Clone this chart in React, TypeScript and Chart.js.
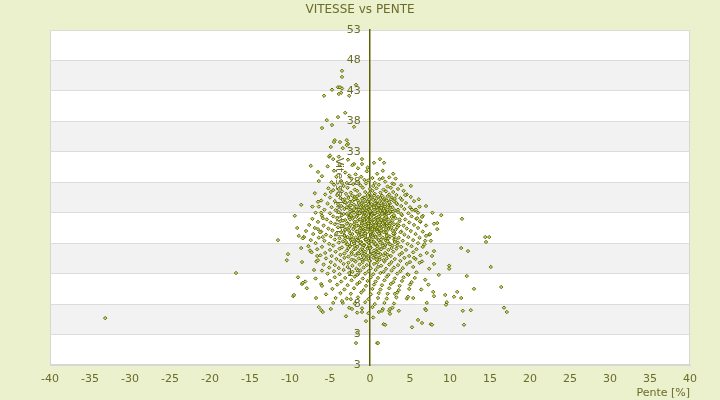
import { useEffect, useRef } from "react";
import { Chart, registerables } from "chart.js";

Chart.register(...registerables);

const TITLE = "VITESSE vs PENTE";
const X_TITLE = "Pente [%]";
const Y_TITLE = "Vitesse [km/h]";
const Y_TICK_LABELS = ["3", "3", "8", "13", "18", "23", "28", "33", "38", "43", "48", "53"];

const PAGE_BG = "#ebf0cd";
const BAND = "#f2f2f2";
const FRAME = "#d6d6d6";
const GRID = "#dcdcdc";
const AXIS = "#5b6000";
const TEXT = "#6b6b2a";
const POINT_LINE = "#5f6800";
const POINT_FILL = "#cfd882";
const FONT = "'DejaVu Sans', Verdana, sans-serif";

// [pente %, vitesse km/h]
const corePoints: [number, number][] = [
  [-3.1, 29.6], [-1.8, 29.3], [-0.4, 29.8], [0.9, 29.4], [1.6, 29.9], [-2.6, 29.1],
  [-4.2, 28.9], [-2.3, 28.6], [-1.1, 28.9], [0.3, 28.7], [1.2, 28.5], [2.4, 28.8], [-0.7, 28.4],
  [-3.6, 28.2], [-2.9, 27.9], [-1.5, 28.1], [-0.2, 28.3], [0.6, 27.9], [1.9, 28.1], [2.8, 27.8], [-4.8, 28.0],
  [-4.5, 27.6], [-3.3, 27.4], [-2.1, 27.7], [-1.2, 27.5], [-0.5, 27.8], [0.4, 27.4], [1.1, 27.6], [2.2, 27.3], [3.0, 27.7], [3.9, 27.5],
  [-5.2, 27.0], [-3.9, 26.9], [-2.8, 27.1], [-1.9, 26.8], [-0.9, 27.1], [0.0, 26.9], [0.8, 27.0], [1.7, 26.8], [2.6, 27.1], [3.5, 26.9], [-4.6, 26.7],
  [-4.9, 26.4], [-3.5, 26.5], [-2.4, 26.3], [-1.6, 26.6], [-0.6, 26.4], [0.3, 26.6], [1.3, 26.3], [2.0, 26.5], [2.9, 26.4], [4.2, 26.6], [-0.1, 26.2],
  [-5.6, 26.0], [-4.1, 25.9], [-3.0, 26.1], [-2.2, 25.8], [-1.3, 26.0], [-0.3, 25.9], [0.6, 26.1], [1.5, 25.8], [2.4, 26.0], [3.3, 25.9], [4.6, 26.0], [-1.9, 25.6], [0.2, 25.7],
  [-5.0, 25.5], [-3.7, 25.4], [-2.7, 25.6], [-1.8, 25.3], [-0.8, 25.5], [0.1, 25.4], [1.0, 25.6], [1.8, 25.3], [2.7, 25.5], [3.8, 25.4], [5.1, 25.6], [-3.2, 25.2], [-0.2, 25.1],
  [-6.1, 25.0], [-4.4, 24.9], [-3.4, 25.1], [-2.5, 24.8], [-1.5, 25.0], [-0.6, 24.9], [0.4, 25.1], [1.2, 24.8], [2.1, 25.0], [3.0, 24.9], [4.0, 25.1], [5.5, 24.9], [-1.0, 24.7], [0.8, 24.6],
  [-5.3, 24.5], [-4.0, 24.4], [-3.0, 24.6], [-2.0, 24.3], [-1.1, 24.5], [-0.2, 24.4], [0.7, 24.6], [1.6, 24.3], [2.5, 24.5], [3.4, 24.4], [4.5, 24.6], [-2.6, 24.1], [0.2, 24.2], [1.1, 24.0],
  [-6.4, 24.0], [-4.8, 23.9], [-3.6, 24.1], [-2.7, 23.8], [-1.7, 24.0], [-0.9, 23.9], [0.0, 24.1], [0.9, 23.8], [1.9, 24.0], [2.8, 23.9], [3.9, 24.1], [5.0, 23.9], [6.2, 24.0], [-0.4, 23.7], [1.4, 23.6],
  [-5.7, 23.5], [-4.3, 23.4], [-3.2, 23.6], [-2.3, 23.3], [-1.4, 23.5], [-0.5, 23.4], [0.5, 23.6], [1.3, 23.3], [2.2, 23.5], [3.1, 23.4], [4.3, 23.6], [5.6, 23.4], [-0.9, 23.2], [0.1, 23.1], [2.6, 23.2],
  [-6.8, 23.0], [-5.0, 22.9], [-3.9, 23.1], [-2.9, 22.8], [-2.0, 23.0], [-1.2, 22.9], [-0.3, 23.1], [0.6, 22.8], [1.5, 23.0], [2.4, 22.9], [3.5, 23.1], [4.8, 22.9], [6.0, 23.0], [-0.7, 22.7], [0.3, 22.6], [1.9, 22.7],
  [-6.0, 22.5], [-4.6, 22.4], [-3.5, 22.6], [-2.6, 22.3], [-1.6, 22.5], [-0.8, 22.4], [0.2, 22.6], [1.0, 22.3], [1.9, 22.5], [2.9, 22.4], [4.0, 22.6], [5.2, 22.4], [6.6, 22.5], [-0.1, 22.2], [0.7, 22.1], [-2.1, 22.2],
  [-7.2, 22.0], [-5.4, 21.9], [-4.1, 22.1], [-3.1, 21.8], [-2.2, 22.0], [-1.3, 21.9], [-0.4, 22.1], [0.4, 21.8], [1.3, 22.0], [2.2, 21.9], [3.2, 22.1], [4.4, 21.9], [5.8, 22.0], [-0.9, 21.7], [0.9, 21.6], [1.7, 21.7],
  [-6.5, 21.5], [-4.9, 21.4], [-3.7, 21.6], [-2.8, 21.3], [-1.9, 21.5], [-1.0, 21.4], [-0.1, 21.6], [0.8, 21.3], [1.6, 21.5], [2.6, 21.4], [3.7, 21.6], [4.9, 21.4], [6.3, 21.5], [-0.5, 21.2], [0.3, 21.1], [2.0, 21.2],
  [-7.6, 21.0], [-5.8, 20.9], [-4.4, 21.1], [-3.3, 20.8], [-2.4, 21.0], [-1.5, 20.9], [-0.6, 21.1], [0.2, 20.8], [1.1, 21.0], [2.0, 20.9], [3.0, 21.1], [4.2, 20.9], [5.5, 21.0], [7.0, 20.9], [-1.1, 20.7], [0.6, 20.6], [1.4, 20.7],
  [-6.9, 20.5], [-5.2, 20.4], [-4.0, 20.6], [-3.0, 20.3], [-2.0, 20.5], [-1.2, 20.4], [-0.3, 20.6], [0.5, 20.3], [1.4, 20.5], [2.3, 20.4], [3.4, 20.6], [4.6, 20.4], [6.0, 20.5], [-0.8, 20.2], [0.0, 20.1], [0.9, 20.2],
  [-8.0, 20.0], [-6.1, 19.9], [-4.7, 20.1], [-3.6, 19.8], [-2.6, 20.0], [-1.7, 19.9], [-0.8, 20.1], [0.0, 19.8], [0.9, 20.0], [1.8, 19.9], [2.8, 20.1], [3.9, 19.9], [5.1, 20.0], [6.6, 19.9], [-1.3, 19.7], [0.4, 19.6], [1.2, 19.7],
  [-7.1, 19.5], [-5.5, 19.4], [-4.2, 19.6], [-3.2, 19.3], [-2.2, 19.5], [-1.4, 19.4], [-0.5, 19.6], [0.3, 19.3], [1.2, 19.5], [2.1, 19.4], [3.1, 19.6], [4.3, 19.4], [5.7, 19.5], [7.4, 19.4], [-0.9, 19.2], [0.7, 19.1],
  [-8.3, 19.0], [-6.4, 18.9], [-4.9, 19.1], [-3.8, 18.8], [-2.8, 19.0], [-1.8, 18.9], [-1.0, 19.1], [-0.1, 18.8], [0.7, 19.0], [1.6, 18.9], [2.5, 19.1], [3.6, 18.9], [4.8, 19.0], [6.2, 18.9], [-0.4, 18.7], [1.0, 18.6], [2.0, 18.7],
  [-7.4, 18.5], [-5.7, 18.4], [-4.4, 18.6], [-3.4, 18.3], [-2.4, 18.5], [-1.5, 18.4], [-0.6, 18.6], [0.2, 18.3], [1.1, 18.5], [2.0, 18.4], [3.0, 18.6], [4.1, 18.4], [5.4, 18.5], [6.9, 18.4], [-1.1, 18.2], [0.5, 18.1],
  [-6.8, 18.0], [-5.1, 17.9], [-3.9, 18.1], [-2.9, 17.8], [-2.0, 18.0], [-1.1, 17.9], [-0.2, 18.1], [0.6, 17.8], [1.5, 18.0], [2.4, 17.9], [3.5, 18.1], [4.7, 17.9], [6.0, 18.0], [-0.7, 17.7], [0.9, 17.6], [1.9, 17.7],
  [-7.7, 17.5], [-6.0, 17.4], [-4.6, 17.6], [-3.5, 17.3], [-2.5, 17.5], [-1.6, 17.4], [-0.8, 17.6], [0.1, 17.3], [0.9, 17.5], [1.8, 17.4], [2.8, 17.6], [3.9, 17.4], [5.2, 17.5], [6.6, 17.4], [-0.3, 17.2], [1.3, 17.1],
  [-6.6, 17.0], [-5.0, 16.9], [-3.8, 17.1], [-2.9, 16.8], [-2.0, 17.0], [-1.2, 16.9], [-0.3, 17.1], [0.5, 16.8], [1.4, 17.0], [2.3, 16.9], [3.3, 17.1], [4.5, 16.9], [5.8, 17.0], [-0.8, 16.7], [0.8, 16.6],
  [-7.3, 16.5], [-5.6, 16.4], [-4.3, 16.6], [-3.2, 16.3], [-2.3, 16.5], [-1.5, 16.4], [-0.6, 16.6], [0.2, 16.3], [1.0, 16.5], [1.9, 16.4], [2.9, 16.6], [4.0, 16.4], [5.4, 16.5], [7.1, 16.4], [-1.0, 16.2], [0.6, 16.1],
  [-6.2, 16.0], [-4.8, 15.9], [-3.7, 16.1], [-2.7, 15.8], [-1.8, 16.0], [-0.9, 15.9], [0.0, 16.1], [0.8, 15.8], [1.7, 16.0], [2.6, 15.9], [3.7, 16.1], [4.9, 15.9], [6.3, 16.0], [-0.4, 15.7], [1.2, 15.6],
  [-5.5, 15.5], [-4.2, 15.4], [-3.2, 15.6], [-2.3, 15.3], [-1.4, 15.5], [-0.5, 15.4], [0.4, 15.6], [1.2, 15.3], [2.1, 15.5], [3.1, 15.4], [4.3, 15.6], [5.7, 15.4], [-0.9, 15.2],
  [-6.7, 15.0], [-4.9, 14.9], [-3.7, 15.1], [-2.7, 14.8], [-1.8, 15.0], [-0.9, 14.9], [0.0, 15.1], [0.9, 14.8], [1.8, 15.0], [2.7, 14.9], [3.8, 15.1], [5.0, 14.9], [6.5, 15.0],
  [-5.8, 14.5], [-4.4, 14.4], [-3.3, 14.6], [-2.2, 14.3], [-1.3, 14.5], [-0.4, 14.4], [0.5, 14.6], [1.4, 14.3], [2.4, 14.5], [3.5, 14.4], [4.6, 14.6],
  [-5.1, 14.0], [-3.9, 13.9], [-2.8, 14.1], [-1.7, 13.8], [-0.8, 14.0], [0.1, 13.9], [1.0, 14.1], [2.0, 13.8], [3.0, 14.0], [4.1, 13.9], [5.4, 14.1],
  [-6.0, 13.5], [-4.5, 13.4], [-3.3, 13.6], [-2.2, 13.3], [-1.2, 13.5], [-0.2, 13.4], [0.7, 13.6], [1.7, 13.3], [2.7, 13.5], [3.8, 13.4],
  [-5.3, 13.0], [-3.8, 12.9], [-2.6, 13.1], [-1.6, 12.8], [-0.6, 13.0], [0.4, 12.9], [1.3, 13.1], [2.3, 12.8], [3.4, 13.0], [4.7, 12.9],
  [-4.4, 12.4], [-3.1, 12.3], [-1.9, 12.5], [-0.9, 12.2], [0.1, 12.4], [1.0, 12.3], [2.1, 12.5], [3.1, 12.2], [4.2, 12.4], [5.6, 12.3],
  [-5.0, 11.8], [-3.6, 11.7], [-2.3, 11.9], [-1.3, 11.6], [-0.3, 11.8], [0.7, 11.7], [1.8, 11.9], [2.9, 11.6], [4.0, 11.8],
  [-4.1, 11.2], [-2.8, 11.1], [-1.6, 11.3], [-0.5, 11.0], [0.5, 11.2], [1.5, 11.1], [2.6, 11.3], [3.7, 11.0], [5.0, 11.2],
  [-4.7, 10.5], [-3.2, 10.4], [-2.0, 10.6], [-0.8, 10.3], [0.3, 10.5], [1.3, 10.4], [2.4, 10.6], [3.6, 10.3], [4.9, 10.5],
  [-3.7, 9.8], [-2.4, 9.7], [-1.1, 9.9], [0.1, 9.6], [1.1, 9.8], [2.2, 9.7], [3.4, 9.9],
  [-4.3, 9.0], [-2.9, 8.9], [-1.5, 9.1], [-0.2, 8.8], [1.0, 9.0], [2.1, 8.9], [3.3, 9.1], [4.6, 8.9],
  [-3.4, 8.2], [-1.9, 8.1], [-0.6, 8.3], [0.6, 8.0], [1.8, 8.2], [3.0, 8.1],
  [-2.6, 7.4], [-1.0, 7.3], [0.3, 7.5], [1.6, 7.2], [2.8, 7.4],
  [-1.6, 6.6], [-0.2, 6.5], [1.1, 6.7], [2.5, 6.4],
];

const coreDensePoints: [number, number][] = [
  [-2.0, 25.2], [-1.0, 25.3], [-0.1, 25.2], [0.8, 25.3], [1.7, 25.1], [2.6, 25.2],
  [-2.4, 24.2], [-1.3, 24.3], [-0.5, 24.1], [0.5, 24.3], [1.4, 24.2], [2.3, 24.1],
  [-2.5, 23.2], [-1.6, 23.1], [-0.8, 23.3], [0.1, 23.2], [1.0, 23.1], [1.9, 23.3], [2.9, 23.2],
  [-2.6, 22.2], [-1.7, 22.3], [-0.9, 22.1], [0.0, 22.3], [0.9, 22.2], [1.8, 22.1], [2.7, 22.3],
  [-2.9, 21.2], [-2.0, 21.1], [-1.0, 21.3], [-0.2, 21.2], [0.7, 21.1], [1.6, 21.3], [2.5, 21.2], [3.4, 21.1],
  [-3.1, 20.2], [-2.1, 20.3], [-1.3, 20.1], [-0.4, 20.3], [0.5, 20.2], [1.4, 20.1], [2.3, 20.3], [3.2, 20.2],
  [-3.2, 19.2], [-2.3, 19.1], [-1.4, 19.3], [-0.6, 19.2], [0.3, 19.1], [1.2, 19.3], [2.1, 19.2], [3.0, 19.1],
  [-3.0, 18.2], [-2.1, 18.3], [-1.2, 18.1], [-0.4, 18.3], [0.5, 18.2], [1.3, 18.1], [2.2, 18.3], [3.1, 18.2],
  [-2.7, 17.2], [-1.8, 17.1], [-0.9, 17.3], [0.0, 17.2], [0.9, 17.1], [1.8, 17.3], [2.7, 17.2],
  [-2.3, 16.2], [-1.4, 16.3], [-0.5, 16.1], [0.4, 16.3], [1.3, 16.2], [2.2, 16.1],
  [-2.0, 15.2], [-1.0, 15.3], [-0.1, 15.1], [0.8, 15.3], [1.7, 15.2],
];

const coreRingPoints: [number, number][] = [
  [-2.7, 25.4], [-1.6, 25.7], [-0.6, 25.5], [0.5, 25.8], [1.3, 25.4], [2.2, 25.7], [3.1, 25.3],
  [-3.1, 24.7], [-2.2, 24.9], [-1.4, 24.6], [-0.3, 24.8], [0.6, 24.5], [1.6, 24.9], [2.4, 24.7], [3.3, 24.6],
  [-2.9, 23.9], [-2.0, 23.6], [-1.1, 23.8], [-0.1, 23.5], [0.8, 23.9], [1.7, 23.6], [2.5, 23.8], [3.5, 23.5],
  [-3.3, 22.8], [-2.4, 22.6], [-1.5, 22.9], [-0.5, 22.6], [0.4, 22.9], [1.3, 22.6], [2.1, 22.8], [3.0, 22.6], [3.9, 22.8],
  [-3.4, 21.7], [-2.5, 21.9], [-1.6, 21.6], [-0.7, 21.8], [0.1, 21.5], [1.0, 21.8], [1.9, 21.5], [2.8, 21.7], [3.7, 21.9],
  [-3.5, 20.8], [-2.6, 20.6], [-1.7, 20.9], [-0.9, 20.6], [0.1, 20.9], [1.0, 20.6], [1.8, 20.8], [2.7, 20.6], [3.6, 20.9],
  [-3.3, 19.8], [-2.5, 19.6], [-1.6, 19.9], [-0.6, 19.6], [0.2, 19.9], [1.1, 19.6], [2.0, 19.8], [2.9, 19.6], [3.8, 19.8],
  [-3.1, 18.8], [-2.2, 18.6], [-1.3, 18.9], [-0.5, 18.6], [0.4, 18.9], [1.4, 18.6], [2.3, 18.8], [3.2, 18.6],
  [-2.8, 17.8], [-1.9, 17.6], [-1.0, 17.9], [-0.1, 17.6], [0.7, 17.9], [1.6, 17.6], [2.5, 17.8], [3.4, 17.6],
];

const coreInnerPoints: [number, number][] = [
  [-0.8, 24.3], [0.2, 24.4], [1.1, 24.2], [1.9, 24.4],
  [-1.2, 23.9], [-0.4, 23.8], [0.5, 23.9], [1.4, 23.8], [2.2, 23.9],
  [-0.9, 23.4], [0.0, 23.3], [0.9, 23.4], [1.8, 23.3],
  [-1.3, 22.9], [-0.4, 22.8], [0.6, 22.9], [1.5, 22.8], [2.3, 22.9],
  [-0.8, 22.4], [0.1, 22.3], [1.1, 22.4], [2.0, 22.3],
  [-1.2, 21.9], [-0.3, 21.8], [0.5, 21.9], [1.4, 21.8], [2.3, 21.9],
  [-0.7, 21.4], [0.2, 21.3], [1.2, 21.4], [2.1, 21.3],
  [-1.1, 20.9], [-0.2, 20.8], [0.7, 20.9], [1.6, 20.8], [2.4, 20.9],
  [-0.6, 20.4], [0.3, 20.3], [1.2, 20.4], [2.0, 20.3],
  [-0.9, 19.9], [0.0, 19.8], [0.9, 19.9], [1.7, 19.8],
];

const upperTail: [number, number][] = [
  [-3.5, 46.3], [-3.5, 45.3], [-4.0, 43.6], [-3.75, 43.6], [-3.5, 43.4], [-4.75, 43.2], [-1.75, 44.0],
  [-3.6, 42.7], [-3.9, 42.5], [-5.75, 42.2], [-2.6, 42.2], [-3.1, 39.4], [-4.0, 38.7], [-5.4, 38.2],
  [-4.75, 37.4], [-6.0, 36.9], [-2.0, 37.1], [-4.4, 34.9], [-4.5, 34.6], [-3.75, 34.6], [-2.9, 34.9],
  [-2.75, 34.3], [-4.9, 33.8], [-3.4, 33.6], [-2.9, 34.1], [-5.1, 32.2], [-3.9, 32.2], [-4.6, 31.8],
  [-2.75, 31.7], [-1.0, 31.8], [-2.0, 31.0], [-1.0, 31.0], [-1.5, 30.3], [-7.4, 30.7], [-6.5, 29.7],
  [-6.0, 29.0], [-6.4, 28.2], [1.25, 31.8], [1.75, 31.2], [1.6, 28.7], [-5.0, 32.4], [-4.5, 29.9],
  [-3.5, 27.9], [-5.3, 30.6], [-2.2, 30.8], [-0.3, 30.4], [0.5, 31.2], [-3.8, 30.9],
];

const leftTail: [number, number][] = [
  [-33.1, 5.7], [-16.75, 13.1], [-11.5, 18.5], [-8.6, 24.3], [-9.4, 22.5], [-9.1, 20.5], [-8.9, 19.2],
  [-8.25, 19.0], [-8.4, 18.8], [-8.6, 17.2], [-10.25, 16.2], [-10.4, 15.2], [-8.5, 14.9], [-6.6, 15.9],
  [-6.5, 15.2], [-9.0, 12.4], [-8.5, 11.3], [-8.4, 11.5], [-8.1, 11.7], [-9.6, 9.3], [-9.5, 9.5],
  [-6.75, 9.0], [-7.9, 10.6], [-6.1, 11.3], [-6.0, 11.0], [-6.4, 7.5], [-6.1, 7.0], [-5.9, 6.7],
  [-4.9, 7.2], [-3.5, 8.5], [-2.25, 7.2], [-2.4, 8.8], [-1.75, 1.6], [-1.6, 3.3], [-1.0, 6.7],
  [-6.5, 24.8], [-6.1, 23.0], [-5.9, 22.1], [-6.5, 20.3], [-6.25, 19.8], [-5.9, 19.0], [-7.0, 13.6],
  [-6.8, 12.2], [-7.5, 16.8], [-5.5, 9.6], [-4.6, 8.2], [-3.0, 6.0], [-7.2, 24.0], [-6.9, 26.2],
];

const lowTail: [number, number][] = [
  [0.9, 1.6], [1.0, 1.6], [-0.5, 5.2], [0.4, 5.8], [1.7, 4.7], [1.9, 4.6],
  [3.6, 6.9], [2.4, 6.9], [2.5, 7.2], [1.5, 6.9],
];

const rightTail: [number, number][] = [
  [4.4, 25.9], [7.0, 24.1], [11.5, 22.0], [8.4, 21.3], [8.0, 21.2], [8.4, 20.3], [7.5, 19.5],
  [7.0, 19.2], [14.4, 19.0], [14.9, 19.0], [14.5, 18.2], [11.4, 17.2], [12.25, 16.7], [8.0, 16.7],
  [7.75, 15.9], [6.25, 21.6], [5.9, 22.1], [6.5, 22.3], [5.75, 23.5], [5.25, 23.5], [15.1, 14.1],
  [9.9, 14.3], [9.9, 13.8], [8.0, 14.6], [7.4, 13.8], [12.1, 12.6], [16.4, 10.8], [13.0, 10.5],
  [10.9, 10.0], [10.5, 9.2], [11.4, 9.0], [9.4, 9.5], [9.6, 8.3], [9.5, 7.9], [8.0, 9.3],
  [7.1, 8.2], [16.75, 7.4], [17.1, 6.7], [11.6, 6.9], [12.6, 7.0], [6.9, 7.2], [7.0, 7.0],
  [6.0, 5.4], [6.5, 4.9], [7.6, 4.7], [7.75, 4.6], [11.75, 4.6], [5.25, 4.2], [5.4, 9.0],
  [4.75, 9.2], [3.1, 9.7], [5.5, 15.6], [6.2, 14.8], [5.8, 13.2], [6.9, 12.0], [5.2, 11.6],
  [6.4, 10.4], [7.3, 11.2], [8.6, 12.8], [7.9, 10.0], [4.8, 12.8], [6.8, 17.8], [7.6, 18.4],
  [5.1, 27.4], [3.2, 28.6], [2.9, 29.4], [8.9, 22.6], [7.8, 23.0], [6.1, 25.2],
];

const allPoints = [
  ...corePoints, ...coreDensePoints, ...coreRingPoints, ...coreInnerPoints,
  ...upperTail, ...leftTail, ...lowTail, ...rightTail,
];

// white plot area, alternating grey bands, frame and the chart title
const framePlugin = {
  id: "frame",
  beforeDraw(chart: any) {
    const { ctx, chartArea: a, scales } = chart;
    const y = scales.y;
    ctx.save();
    ctx.fillStyle = "#ffffff";
    ctx.fillRect(a.left, a.top, a.right - a.left, a.bottom - a.top);
    ctx.fillStyle = BAND;
    y.ticks.forEach((t: any, i: number) => {
      if (i % 2 === 1 && i < y.ticks.length - 1) {
        const top = y.getPixelForValue(y.ticks[i + 1].value);
        const bottom = y.getPixelForValue(t.value);
        ctx.fillRect(a.left, top, a.right - a.left, bottom - top);
      }
    });
    ctx.strokeStyle = FRAME;
    ctx.lineWidth = 1;
    ctx.strokeRect(a.left + 0.5, a.top + 0.5, a.right - a.left - 1, a.bottom - a.top - 1);
    ctx.fillStyle = TEXT;
    ctx.font = `12px ${FONT}`;
    ctx.textAlign = "center";
    ctx.textBaseline = "middle";
    ctx.fillText(TITLE, chart.width / 2, 10);
    ctx.restore();
  },
};

export default function App() {
  const canvasRef = useRef<HTMLCanvasElement | null>(null);

  useEffect(() => {
    if (!canvasRef.current) return;
    const chart = new Chart(canvasRef.current, {
      type: "scatter",
      data: {
        datasets: [
          {
            data: allPoints.map(([x, y]) => ({ x, y })),
            pointStyle: "rectRot",
            pointRadius: 1.7,
            borderWidth: 1,
            borderColor: POINT_LINE,
            backgroundColor: POINT_FILL,
          },
        ],
      },
      options: {
        animation: false,
        responsive: false,
        layout: { padding: { left: 50, right: 30, top: 30, bottom: 0 } },
        plugins: {
          legend: { display: false },
          title: { display: false },
          tooltip: { enabled: false },
        },
        scales: {
          x: {
            type: "linear",
            position: "bottom",
            min: -40,
            max: 40,
            ticks: { stepSize: 5, padding: 8, color: TEXT, font: { family: FONT, size: 11 } },
            grid: { display: false, drawTicks: false },
            border: { color: FRAME },
            title: {
              display: true,
              text: X_TITLE,
              align: "end",
              color: TEXT,
              font: { family: FONT, size: 11 },
              padding: { top: 0, bottom: 0 },
            },
            afterFit: (scale: any) => {
              scale.height = 35;
            },
          },
          y: {
            type: "linear",
            position: { x: 0 },
            min: -2,
            max: 53,
            ticks: {
              stepSize: 5,
              padding: 9,
              color: TEXT,
              font: { family: FONT, size: 11 },
              // the axis sits at pente = 0, so the gap to the line is a trailing figure space
              callback: (_v: any, i: number) => `${Y_TICK_LABELS[i]}\u2007\u2009`,
            },
            grid: { color: GRID, drawTicks: false },
            border: { color: AXIS, width: 1.5 },
            title: {
              display: true,
              text: Y_TITLE,
              color: TEXT,
              font: { family: FONT, size: 11 },
            },
            afterFit: (scale: any) => {
              scale.width = 42;
            },
          },
        },
      },
      plugins: [framePlugin],
    } as any);
    return () => chart.destroy();
  }, []);

  return (
    <div style={{ position: "fixed", left: 0, top: 0, width: 720, height: 400, background: PAGE_BG }}>
      <canvas ref={canvasRef} width={720} height={400} />
    </div>
  );
}
